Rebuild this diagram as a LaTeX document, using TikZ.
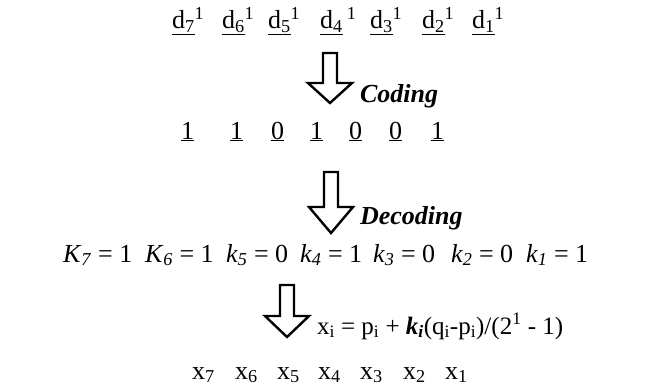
\documentclass[tikz,border=0pt]{standalone}
\usepackage{fontspec}
\setmainfont{Liberation Serif}
\newcommand\rowfont{\fontsize{26}{30}\selectfont}
\newcommand\formfont{\fontsize{25}{29}\selectfont}
\newcommand\lblfont{\fontsize{26}{30}\selectfont\bfseries\itshape}
\tikzset{
  txt/.style={anchor=base west, inner sep=0pt, outer sep=0pt, font=\rowfont},
  form/.style={anchor=base west, inner sep=0pt, outer sep=0pt, font=\formfont},
  lbl/.style={anchor=base west, inner sep=0pt, outer sep=0pt, font=\lblfont},
  bigarrow/.style={draw=black, line width=2.4pt, fill=white, line join=miter}
}
% \hollowarrow{name}{cx}{top}{headstart}{tip}  (y measured from top, px)
\newcommand\hollowarrow[5]{%
  \coordinate (#1) at (#2, 389-#5);
  \draw[bigarrow] (#2-7, 389-#3) -- (#2+7, 389-#3) -- (#2+7, 389-#4) -- (#2+22, 389-#4)
     -- (#1) -- (#2-22, 389-#4) -- (#2-7, 389-#4) -- cycle;}
\begin{document}
\begin{tikzpicture}[x=1pt,y=1pt]
\useasboundingbox (0,0) rectangle (653,389);
% row 1
\node[txt] (d7) at (172,360) {\underline{d\textsubscript{7}}\textsuperscript{1}};
\node[txt] (d6) at (222,360) {\underline{d\textsubscript{6}}\textsuperscript{1}};
\node[txt] (d5) at (268,360) {\underline{d\textsubscript{5}}\textsuperscript{1}};
\node[txt] (d4) at (320,360) {\underline{d\textsubscript{4}}\,\textsuperscript{1}};
\node[txt] (d3) at (370,360) {\underline{d\textsubscript{3}}\textsuperscript{1}};
\node[txt] (d2) at (422,360) {\underline{d\textsubscript{2}}\textsuperscript{1}};
\node[txt] (d1) at (472,360) {\underline{d\textsubscript{1}}\textsuperscript{1}};
% arrow 1
\hollowarrow{a1}{330}{53}{83}{103}
\node[lbl] (coding) at (360,286) {Coding};
% row 2
\node[txt] (b7) at (181,250) {\underline{1}};
\node[txt] (b6) at (230,250) {\underline{1}};
\node[txt] (b5) at (271,250) {\underline{0}};
\node[txt] (b4) at (310,250) {\underline{1}};
\node[txt] (b3) at (349,250) {\underline{0}};
\node[txt] (b2) at (389,250) {\underline{0}};
\node[txt] (b1) at (431,250) {\underline{1}};
% arrow 2
\hollowarrow{a2}{331}{172}{207}{233}
\node[lbl] (decoding) at (360,165) {Decoding};
% row 3
\node[txt] (k7) at (63,127) {\textit{K}\textsubscript{\textit{7}} = 1};
\node[txt] (k6) at (145,127) {\textit{K}\textsubscript{\textit{6}} = 1};
\node[txt] (k5) at (226,127) {\textit{k}\textsubscript{\textit{5}} = 0};
\node[txt] (k4) at (300,127) {\textit{k}\textsubscript{\textit{4}} = 1};
\node[txt] (k3) at (373,127) {\textit{k}\textsubscript{\textit{3}} = 0};
\node[txt] (k2) at (451,127) {\textit{k}\textsubscript{\textit{2}} = 0};
\node[txt] (k1) at (526,127) {\textit{k}\textsubscript{\textit{1}} = 1};
% arrow 3
\hollowarrow{a3}{287}{285}{316}{337}
\node[form] (formula) at (317,55) {x\textsubscript{i} = p\textsubscript{i} + \textbf{\textit{k\textsubscript{i}}}(q\textsubscript{i}-p\textsubscript{i})/(2\textsuperscript{1} - 1)};
% row 4
\node[txt] (x7) at (192,10) {x\textsubscript{7}};
\node[txt] (x6) at (235,10) {x\textsubscript{6}};
\node[txt] (x5) at (277,10) {x\textsubscript{5}};
\node[txt] (x4) at (318,10) {x\textsubscript{4}};
\node[txt] (x3) at (360,10) {x\textsubscript{3}};
\node[txt] (x2) at (403,10) {x\textsubscript{2}};
\node[txt] (x1) at (445,10) {x\textsubscript{1}};
\end{tikzpicture}
\end{document}
